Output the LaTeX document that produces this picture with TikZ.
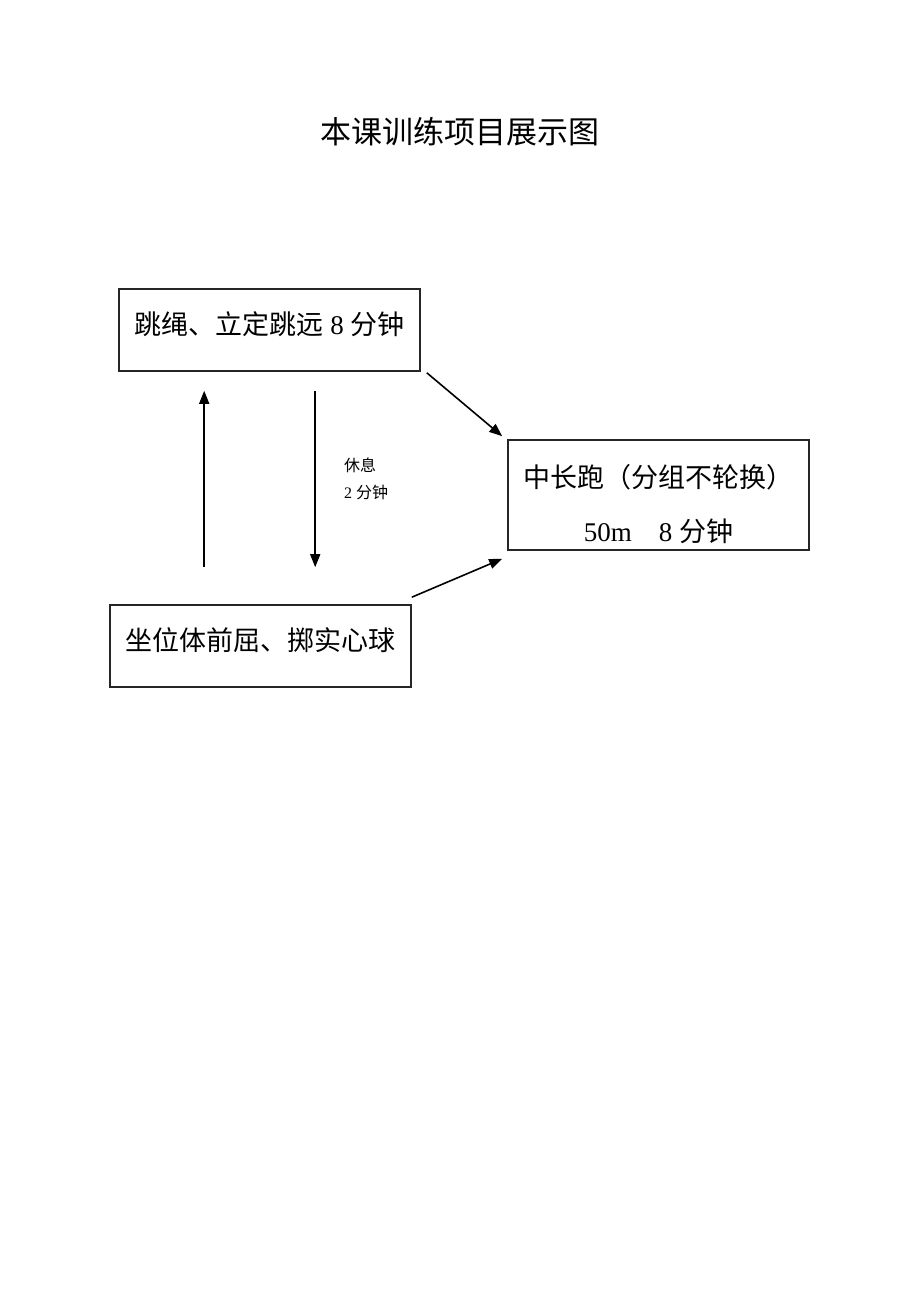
\documentclass[tikz,border=0pt]{standalone}
\usepackage{fontspec}
\setmainfont{Liberation Serif}
\newfontfamily\cjk{Noto Sans CJK SC}
\usetikzlibrary{arrows.meta}
\usetikzlibrary{positioning}

\tikzset{
  itembox/.style={draw=black!85, line width=1.6pt, minimum width=301pt, inner sep=0pt,
    font=\fontsize{27}{30}\selectfont},
  flow/.style={-{Triangle[length=13pt,width=10pt]}, line width=1.6pt}
}

\begin{document}
\begin{tikzpicture}[x=1pt,y=-1pt]
\useasboundingbox (0,0) rectangle (920,1300);
\node at (460,132) (title) {\fontsize{31}{36}\selectfont\cjk 本课训练项目展示图};
% boxes
\node[itembox, minimum height=82pt] at (269.5,330) (rope)
  {\raisebox{-4pt}[0pt][0pt]{{\cjk 跳绳、立定跳远} 8 {\cjk 分钟}}};
\node[itembox, minimum height=110pt] at (658.5,495) (run)
  {\raisebox{-18.5pt}[0pt][0pt]{\begin{tabular}{@{}c@{}}{\cjk 中长跑（分组不轮换）}\\[23pt]
   50m\quad 8 {\cjk 分钟}\end{tabular}}};
\node[itembox, minimum height=82pt] at (260.5,646) (ball)
  {\raisebox{-4pt}[0pt][0pt]{\cjk 坐位体前屈、掷实心球}};
% rest label
\node[anchor=north west, align=left, inner sep=0pt, font=\fontsize{16}{27}\selectfont]
  at (344,458) (rest) {{\cjk 休息}\\2 {\cjk 分钟}};
% arrows
\draw[flow] ([xshift=95pt,yshift=37pt]ball.north west) -- ([xshift=86pt,yshift=-19pt]rope.south west);
\draw[flow] ([xshift=197pt,yshift=-19pt]rope.south west) -- ([xshift=206pt,yshift=37pt]ball.north west);
\draw[flow] ([xshift=6pt,yshift=-1pt]rope.south east) -- ([xshift=-5pt,yshift=3pt]run.north west);
\draw[flow] ([yshift=7pt]ball.north east) -- ([xshift=-5pt,yshift=-8pt]run.south west);
\end{tikzpicture}
\end{document}
